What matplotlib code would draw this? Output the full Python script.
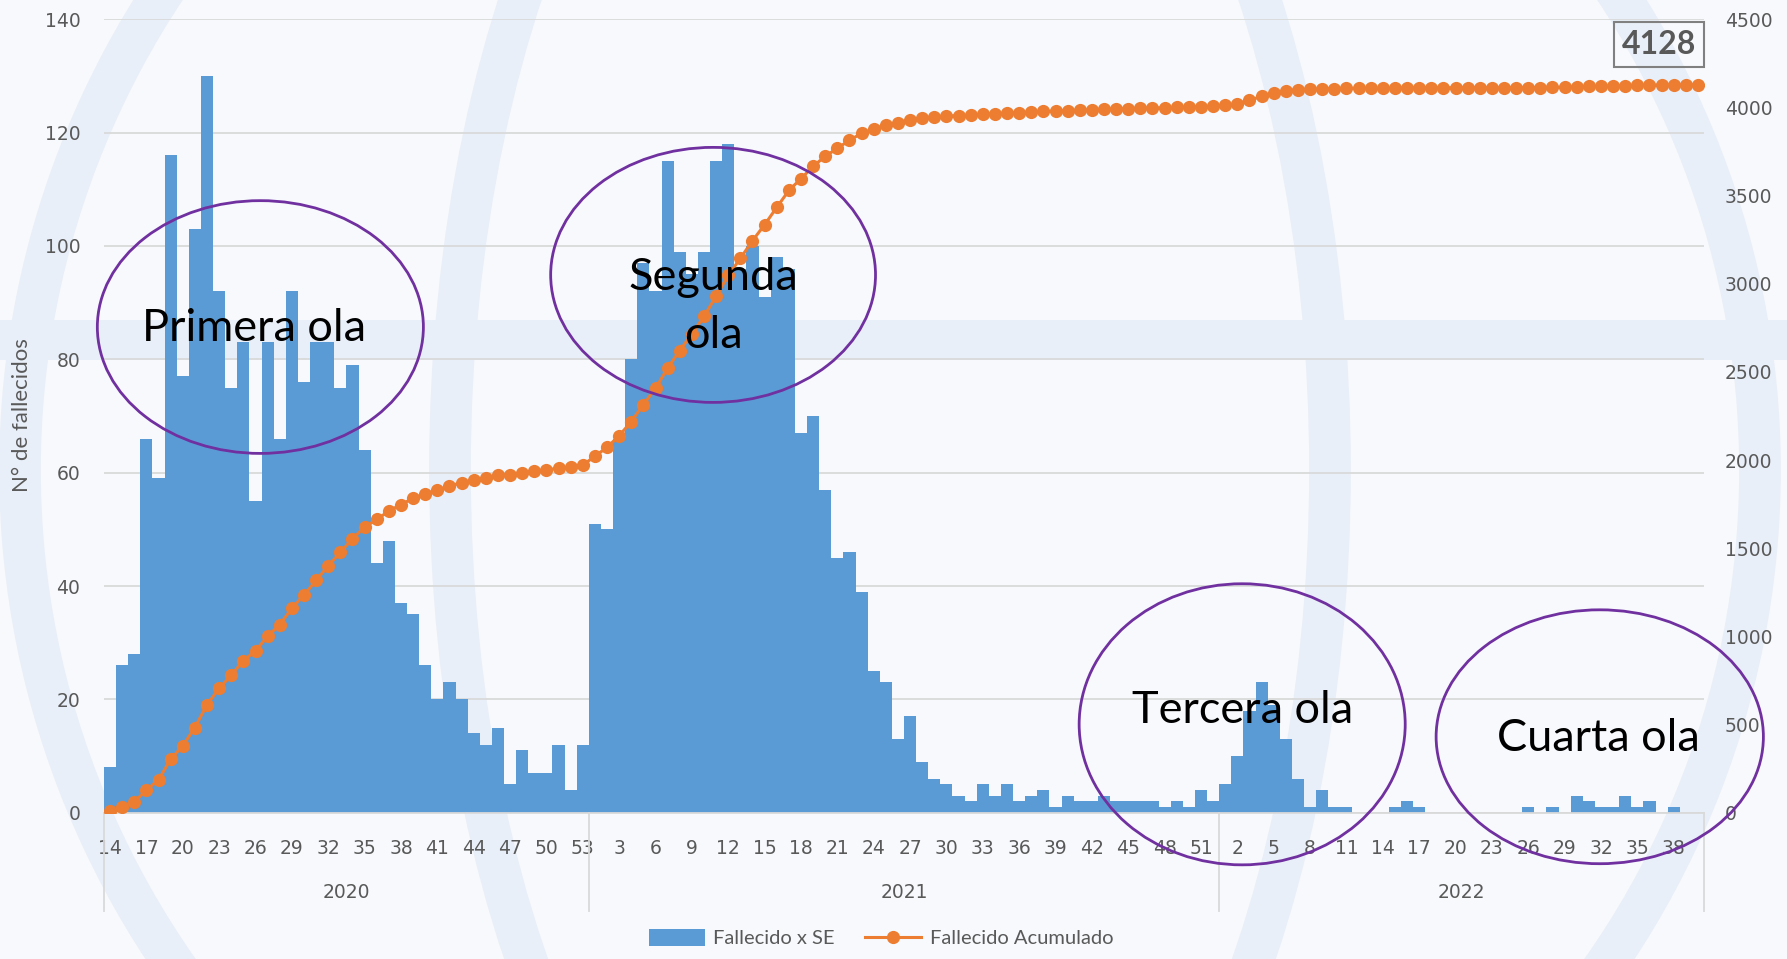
import numpy as np
import matplotlib.pyplot as plt
import matplotlib.transforms as mtransforms
from matplotlib.patches import Ellipse, Circle, Rectangle, Patch
from matplotlib.lines import Line2D

# ---------- data ----------
years = ["2020", "2021", "2022"]
weeks_2020 = list(range(14, 54))
weeks_2021 = list(range(1, 53))
weeks_2022 = list(range(1, 41))

deaths_2020 = [8, 26, 28, 66, 59, 116, 77, 103, 130, 92,
               75, 83, 55, 83, 66, 92, 76, 83, 83, 75,
               79, 64, 44, 48, 37, 35, 26, 20, 23, 20,
               14, 12, 15, 5, 11, 7, 7, 12, 4, 12]
deaths_2021 = [51, 50, 66, 80, 97, 92, 115, 99, 95, 99,
               115, 118, 96, 100, 91, 98, 96, 67, 70, 57,
               45, 46, 39, 25, 23, 13, 17, 9, 6, 5,
               3, 2, 5, 3, 5, 2, 3, 4, 1, 3,
               2, 2, 3, 2, 2, 2, 2, 1, 2, 1,
               4, 2]
deaths_2022 = [5, 10, 18, 23, 19, 13, 6, 1, 4, 1,
               1, 0, 0, 0, 1, 2, 1, 0, 0, 0,
               0, 0, 0, 0, 0, 1, 0, 1, 0, 3,
               2, 1, 1, 3, 1, 2, 0, 1, 0, 0]

wave_labels = ["Primera ola", "Segunda\nola", "Tercera ola", "Cuarta ola"]

# ---------- styling ----------
BAR = "#5b9bd5"
LINE = "#ed7d31"
PURPLE = "#7030a0"
GRAY = "#595959"
GRID = "#d9d9d9"
BG = "#f7f9fc"
WM = "#e9eff8"

weeks = weeks_2020 + weeks_2021 + weeks_2022
weekly = np.array(deaths_2020 + deaths_2021 + deaths_2022)
cumulative = np.cumsum(weekly)
x = np.arange(len(weekly))
group_sizes = [len(weeks_2020), len(weeks_2021), len(weeks_2022)]
bounds = np.concatenate([[0], np.cumsum(group_sizes)]) - 0.5

fig = plt.figure(figsize=(17.87, 9.59), dpi=100)
fig.patch.set_facecolor(BG)

# faint globe watermark in the background
bg = fig.add_axes([0, 0, 1, 1], zorder=-10)
bg.set_xlim(0, 1787)
bg.set_ylim(959, 0)
bg.axis("off")
bg.add_patch(Circle((890, 470), 870, fill=False, lw=30, ec=WM))
bg.add_patch(Ellipse((890, 470), 880, 1740, fill=False, lw=30, ec=WM))
bg.add_patch(Rectangle((0, 320), 1787, 40, fc=WM, ec="none"))

ax = fig.add_axes([104 / 1787, 1 - 812.7 / 959, 1600 / 1787, 793.4 / 959])
ax.set_facecolor("none")
ax.bar(x, weekly, width=1.0, color=BAR, linewidth=0, zorder=2)
ax.set_xlim(-0.5, len(weekly) - 0.5)
ax.set_ylim(0, 140)
ax.set_yticks(range(0, 141, 20))
ax.yaxis.grid(True, color=GRID, lw=1.3)
ax.set_axisbelow(True)
for s in ["top", "left", "right"]:
    ax.spines[s].set_visible(False)
ax.spines["bottom"].set_color(GRID)
ax.spines["bottom"].set_linewidth(1.3)

tick_idx = x[::3]
ax.set_xticks(tick_idx)
ax.set_xticklabels([str(weeks[i]) for i in tick_idx])
ax.tick_params(axis="x", length=0, pad=19, labelsize=13.5, labelcolor=GRAY)
ax.tick_params(axis="y", length=0, pad=17, labelsize=13.5, labelcolor=GRAY)

# year groups under the week labels
trans = mtransforms.blended_transform_factory(ax.transData, ax.transAxes)
for b in bounds:
    ax.plot([b, b], [0, -0.124], transform=trans, color=GRID, lw=1.3, clip_on=False)
for yr, lo, hi in zip(years, bounds[:-1], bounds[1:]):
    ax.text((lo + hi) / 2, -0.101, yr, transform=trans, ha="center", va="center",
            fontsize=13.5, color=GRAY)

fig.text(22 / 1787, 1 - 415 / 959, "N° de fallecidos", rotation=90, ha="center", va="center",
         fontsize=16, color=GRAY, family="Lato")

# cumulative line on the secondary axis
ax2 = ax.twinx()
ax2.plot(x, cumulative, color=LINE, lw=2.2, marker="o", markersize=9.5, markeredgewidth=0, zorder=3)
ax2.set_ylim(0, 4500)
ax2.set_yticks(range(0, 4501, 500))
ax2.tick_params(axis="y", length=0, pad=15, labelsize=13.5, labelcolor=GRAY)
for s in ax2.spines.values():
    s.set_visible(False)

ax2.annotate(f"{cumulative[-1]}", xy=(x[-1], cumulative[-1]), xytext=(-39, 40),
             textcoords="offset pixels", ha="center", va="center", fontsize=23,
             fontweight="bold", color=GRAY, family="Lato",
             bbox=dict(boxstyle="square,pad=0.25", fc="none", ec="#808080", lw=1.5))

# wave ellipses and labels (in bar-axis data units)
wave_boxes = [(12.4, 85.7, 26.9, 44.6), (49.75, 94.9, 26.8, 45.0),
              (93.4, 15.6, 26.9, 49.6), (122.9, 13.4, 27.0, 44.8)]
wave_text_pos = [(11.9, 85.5), (49.75, 89.3), (93.4, 18.0), (122.8, 13.1)]
for (cx, cy, w, h), (tx, ty), lab in zip(wave_boxes, wave_text_pos, wave_labels):
    e = Ellipse((cx, cy), w, h, fill=False, ec=PURPLE, lw=2, transform=ax.transData,
                clip_on=False, zorder=5)
    ax2.add_artist(e)
    ax2.text(tx, ty, lab, transform=ax.transData, ha="center", va="center", fontsize=32.5,
             family="Lato", color="black", linespacing=1.5, zorder=6, clip_on=False)

handles = [Patch(facecolor=BAR, edgecolor="none"),
           Line2D([0], [0], color=LINE, lw=2.2, marker="o", markersize=9.5, markeredgewidth=0)]
fig.legend(handles, ["Fallecido x SE", "Fallecido Acumulado"], loc="center",
           bbox_to_anchor=(881 / 1787, 1 - 938 / 959), ncol=2, frameon=False,
           handlelength=2.8, handleheight=0.9, columnspacing=1.5, handletextpad=0.4,
           prop=dict(family="Lato", size=14.5), labelcolor=GRAY)

fig.savefig("out.png", dpi=100, facecolor=fig.get_facecolor())
